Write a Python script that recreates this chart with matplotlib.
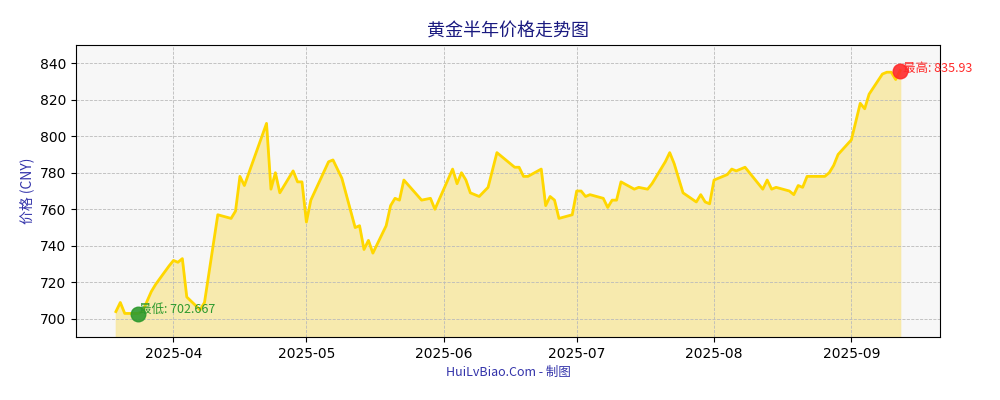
import matplotlib
matplotlib.use("Agg")
import matplotlib.pyplot as plt
import matplotlib.dates as mdates
import pandas as pd

plt.rcParams['font.family'] = ['DejaVu Sans', 'Noto Sans CJK SC']

dates = ["2025-03-19", "2025-03-20", "2025-03-21", "2025-03-24", "2025-03-25", "2025-03-27",
         "2025-03-28", "2025-03-31", "2025-04-01", "2025-04-02", "2025-04-03", "2025-04-04",
         "2025-04-07", "2025-04-08", "2025-04-11", "2025-04-14", "2025-04-15", "2025-04-16",
         "2025-04-17", "2025-04-22", "2025-04-23", "2025-04-24", "2025-04-25", "2025-04-28",
         "2025-04-29", "2025-04-30", "2025-05-01", "2025-05-02", "2025-05-06", "2025-05-07",
         "2025-05-09", "2025-05-12", "2025-05-13", "2025-05-14", "2025-05-15", "2025-05-16",
         "2025-05-19", "2025-05-20", "2025-05-21", "2025-05-22", "2025-05-23", "2025-05-27",
         "2025-05-29", "2025-05-30", "2025-06-03", "2025-06-04", "2025-06-05", "2025-06-06",
         "2025-06-07", "2025-06-09", "2025-06-11", "2025-06-13", "2025-06-17", "2025-06-18",
         "2025-06-19", "2025-06-20", "2025-06-23", "2025-06-24", "2025-06-25", "2025-06-26",
         "2025-06-27", "2025-06-30", "2025-07-01", "2025-07-02", "2025-07-03", "2025-07-04",
         "2025-07-07", "2025-07-08", "2025-07-09", "2025-07-10", "2025-07-11", "2025-07-14",
         "2025-07-15", "2025-07-17", "2025-07-18", "2025-07-21", "2025-07-22", "2025-07-23",
         "2025-07-25", "2025-07-28", "2025-07-29", "2025-07-30", "2025-07-31", "2025-08-01",
         "2025-08-04", "2025-08-05", "2025-08-06", "2025-08-08", "2025-08-11", "2025-08-12",
         "2025-08-13", "2025-08-14", "2025-08-15", "2025-08-18", "2025-08-19", "2025-08-20",
         "2025-08-21", "2025-08-22", "2025-08-26", "2025-08-27", "2025-08-28", "2025-08-29",
         "2025-09-01", "2025-09-03", "2025-09-04", "2025-09-05", "2025-09-08", "2025-09-09",
         "2025-09-10", "2025-09-11", "2025-09-12"]
prices = [704, 709, 703, 703, 704, 715,
          719, 729, 732, 731, 733, 712,
          705, 709, 757, 755, 759, 778,
          773, 807, 771, 780, 769, 781,
          775, 775, 753, 765, 786, 787,
          777, 750, 751, 738, 743, 736,
          751, 762, 766, 765, 776, 765,
          766, 760, 782, 774, 780, 776,
          769, 767, 772, 791, 783, 783,
          778, 778, 782, 762, 767, 765,
          755, 757, 770, 770, 767, 768,
          766, 761, 765, 765, 775, 771,
          772, 771, 774, 786, 791, 785,
          769, 764, 768, 764, 763, 776,
          779, 782, 781, 783, 774, 771,
          776, 771, 772, 770, 768, 773,
          772, 778, 778, 780, 784, 790,
          798, 818, 815, 823, 834, 835,
          835, 831, 835.93]
low_date, low_val = "2025-03-24", 702.667
high_date, high_val = "2025-09-12", 835.93

x = pd.to_datetime(dates)
fig, ax = plt.subplots(figsize=(10, 4), dpi=100)
fig.subplots_adjust(left=0.076, right=0.94, top=0.888, bottom=0.157)
ax.set_facecolor('#f7f7f7')
ax.fill_between(x, prices, 690, color='#f7e9a6', alpha=0.9)
ax.plot(x, prices, color='#ffd700', lw=2)
ax.grid(True, ls='--', lw=0.6, color='#bbbbbb')

lx, hx = pd.Timestamp(low_date), pd.Timestamp(high_date)
ax.scatter([lx], [low_val], s=110, color='#2e9a2e', zorder=5, alpha=0.9)
ax.scatter([hx], [high_val], s=110, color='#ff2a2a', zorder=5, alpha=0.9)
ax.annotate(f"最低: {low_val}", (lx, low_val), xytext=(1, 1), textcoords='offset points',
            color='#2e9a2e', fontsize=9, family=['Noto Sans CJK SC', 'DejaVu Sans'])
ax.annotate(f"最高: {high_val}", (hx, high_val), xytext=(2, -1), textcoords='offset points',
            color='#ff2a2a', fontsize=9, family=['Noto Sans CJK SC', 'DejaVu Sans'])

ax.set_ylim(690, 850)
ax.set_yticks(range(700, 841, 20))
ax.set_xlim(pd.Timestamp("2025-03-10"), pd.Timestamp("2025-09-21"))
ax.xaxis.set_major_locator(mdates.MonthLocator(bymonth=range(4, 10)))
ax.xaxis.set_major_formatter(mdates.DateFormatter('%Y-%m'))
ax.tick_params(labelsize=10)
ax.set_title("黄金半年价格走势图", color='#1a1a80', fontsize=13,
             family=['Noto Sans CJK SC', 'DejaVu Sans'])
ax.set_ylabel("价格 (CNY)", color='#3333aa', fontsize=10,
              family=['Noto Sans CJK SC', 'DejaVu Sans'])
ax.set_xlabel("HuiLvBiao.Com - 制图", color='#3333aa', fontsize=9, labelpad=4,
              family=['Noto Sans CJK SC', 'DejaVu Sans'])
fig.savefig("out.png")
